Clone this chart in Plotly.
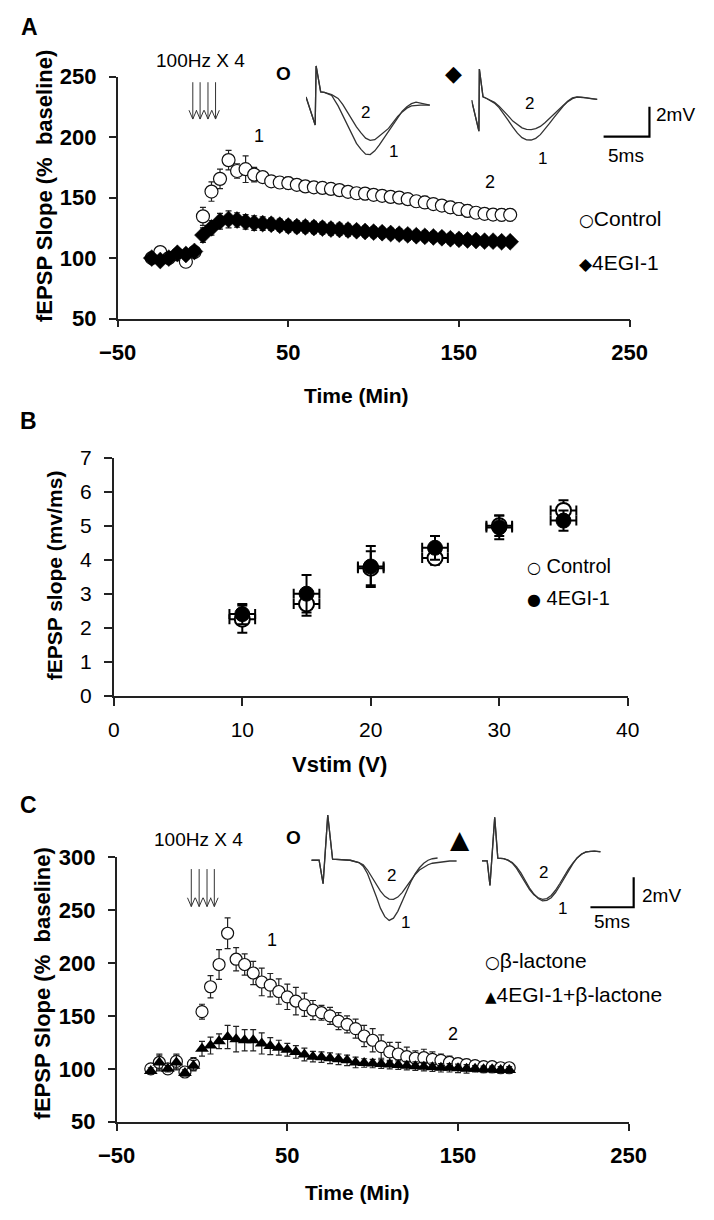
import plotly.graph_objects as go

W, H = 714, 1220
FONT = "Liberation Sans, Arial, sans-serif"

# ---------------- Panel A data ----------------
TIME = [-30, -25, -20, -15, -10, -5, 0, 5, 10, 15, 20, 25, 30, 35, 40, 45, 50, 55, 60, 65,
        70, 75, 80, 85, 90, 95, 100, 105, 110, 115, 120, 125, 130, 135, 140, 145, 150,
        155, 160, 165, 170, 175, 180]
A_CONTROL = [100, 105, 100, 103, 97, 105,
             134.5, 155, 165.5, 181, 172, 173.5, 169, 167, 163.5, 162.5,
             162, 160.6, 159.3, 158.5, 158, 157.2, 156.2, 154.8, 153.6, 153.3,
             152.3, 151.5, 150.6, 150, 148.7, 147, 146, 144.7, 143.4, 142,
             140.6, 139, 137.5, 136.6, 136, 135.8, 135.8]
A_CONTROL_ERR = [2, 3, 3, 3, 4, 3,
                 7.5, 8, 8, 8, 6, 11, 6, 4, 4, 4.5,
                 5, 4, 4, 4, 4, 4.5, 4, 4, 4.5, 5,
                 4, 4, 4, 4.5, 4, 4.5, 5, 4.5, 4, 5,
                 5, 5, 4, 4, 4.5, 5, 5]
A_4EGI = [100, 98, 100, 104, 103, 105.5,
          119, 125, 130.5, 132, 131.5, 130, 129, 128.5, 128, 127.2,
          126.5, 126, 125.8, 125.3, 124.8, 124, 123.7, 123.2, 122.6, 122,
          121.5, 121, 120.3, 119.8, 119.2, 118.5, 118, 117.5, 116.8, 116,
          115.5, 115, 114.5, 114, 114, 113.5, 113.5]
A_4EGI_ERR = [2, 2, 3, 3, 3, 3,
              6, 6, 6.5, 7, 6, 6, 6, 5.5, 5, 5,
              5, 5, 5, 5, 5, 5, 5, 5, 4.5, 4.5,
              4.5, 4.5, 4.5, 4.5, 4.5, 4.5, 4.5, 4.5, 4.5, 4.5,
              4.5, 4, 4, 4, 4, 4, 4]

# ---------------- Panel B data ----------------
VSTIM = [10, 15, 20, 25, 30, 35]
VSTIM_ERR = [1, 1, 1, 1, 1, 1]
B_CONTROL = [2.25, 2.7, 3.75, 4.05, 5.0, 5.45]
B_CONTROL_ERR = [0.4, 0.35, 0.5, 0.2, 0.3, 0.3]
B_4EGI = [2.4, 3.0, 3.8, 4.35, 4.95, 5.15]
B_4EGI_ERR = [0.3, 0.55, 0.6, 0.35, 0.35, 0.3]

# ---------------- Panel C data ----------------
C_BLAC = [100, 106, 100, 107, 97, 104.5,
          154, 177.5, 198.5, 228, 203.5, 198.5, 190.5, 182, 179, 173,
          168, 164, 160.5, 155.5, 153, 150, 145, 142, 138, 131,
          127, 121, 116, 114, 111.5, 110, 110.5, 109, 108, 106,
          105, 104, 103, 102, 102, 101, 101]
C_BLAC_ERR = [4, 8, 4, 7, 4, 6,
              7, 10.5, 14, 14.5, 11, 10, 11, 13, 11, 12,
              12, 13, 11, 9, 7, 8, 8, 8, 9, 10,
              11, 11, 9, 11, 9, 7, 8, 7, 6, 6,
              5, 5, 4, 4, 4, 4, 4]
C_4EGI_BLAC = [98, 106, 100, 106, 96, 103,
               119, 122, 126, 130, 128, 127, 127, 124, 121.5, 120,
               118, 116, 113.5, 111.5, 111, 110, 109, 108, 106, 105.5,
               105, 104.5, 104, 103.5, 103, 102.5, 102, 101.5, 101, 101,
               100.5, 100, 100, 99.5, 99.5, 99, 99]
C_4EGI_BLAC_ERR = [3, 7, 3, 7, 3, 5,
                   7, 8, 7, 11, 12, 10, 10, 10, 8, 7,
                   6, 6, 6, 5, 5, 5, 5, 5, 5, 4,
                   4, 4, 4, 4, 4, 4, 4, 4, 4, 4,
                   4, 4, 3, 3, 3, 3, 3]

# ---------------- Example fEPSP traces (ms, mV) ----------------
A_CTRL_T = [0, 1.0, 1.1, 1.6, 2.0, 2.8, 3.5, 4.0, 4.5, 5.0, 5.5, 6.0, 6.5, 7.0, 7.5, 8.0,
            8.5, 9.0, 9.5, 10.0, 10.5, 11.0, 11.5, 12.0, 12.5, 13.0, 13.5]
A_CTRL_1 = [0, -1.87, 2.07, 0.33, 0.3, 0.1, -0.6, -1.2, -1.9, -2.5, -3.1, -3.5, -3.82, -3.85,
            -3.6, -3.2, -2.75, -2.3, -1.85, -1.35, -0.95, -0.65, -0.45, -0.35, -0.4, -0.5, -0.55]
A_CTRL_2 = [0, -1.87, 2.07, 0.33, 0.3, 0.15, -0.1, -0.5, -1.0, -1.5, -2.0, -2.4, -2.75, -2.9,
            -2.85, -2.6, -2.35, -2.1, -1.7, -1.3, -1.0, -0.75, -0.6, -0.55, -0.55, -0.55, -0.55]
A_EGI_T = [0, 0.8, 0.85, 1.25, 1.65, 2.0, 2.5, 3.0, 3.5, 4.0, 4.5, 5.0, 5.5, 6.0, 6.5, 7.0,
           7.5, 8.0, 8.5, 9.0, 9.5, 10.0, 10.5, 11.0, 11.5, 12.0, 12.5, 13.0, 13.7]
A_EGI_1 = [0, -2.07, 2.07, 0.22, 0.11, 0.0, -0.2, -0.5, -0.9, -1.35, -1.8, -2.2, -2.5, -2.65,
           -2.66, -2.55, -2.3, -1.95, -1.55, -1.15, -0.75, -0.4, -0.1, 0.1, 0.2, 0.2, 0.15, 0.1, 0.05]
A_EGI_2 = [0, -2.07, 2.07, 0.22, 0.11, 0.0, -0.15, -0.4, -0.7, -1.05, -1.4, -1.65, -1.85, -1.95,
           -1.96, -1.9, -1.75, -1.5, -1.2, -0.9, -0.6, -0.3, -0.05, 0.15, 0.22, 0.2, 0.15, 0.1, 0.05]

C_BL_T1 = [0, 0.9, 1.36, 1.9, 2.46, 3.5, 4.5, 5.5, 6.0, 6.5, 7.0, 7.5, 8.0, 8.5, 9.0, 9.5,
           10.0, 10.5, 11.0, 11.5, 12.0, 12.5, 13.0, 13.5, 14.0, 14.6]
C_BL_1 = [0, 0, -1.56, 3.0, 0.07, 0.05, 0.0, -0.15, -0.4, -0.9, -1.6, -2.4, -3.2, -3.75, -4.0,
          -3.85, -3.4, -2.8, -2.1, -1.45, -0.9, -0.5, -0.2, 0.0, 0.1, 0.15]
C_BL_T2 = [0, 0.9, 1.36, 1.9, 2.46, 3.5, 4.5, 5.5, 6.0, 6.5, 7.0, 7.5, 8.0, 8.5, 9.0, 9.5,
           10.0, 10.5, 11.0, 11.5, 12.0, 12.5, 13.0, 13.5, 14.0, 15.0, 16.0, 16.8]
C_BL_2 = [0, 0, -1.56, 3.0, 0.07, 0.05, 0.0, -0.15, -0.3, -0.65, -1.1, -1.6, -2.05, -2.4, -2.58,
          -2.6, -2.45, -2.15, -1.75, -1.35, -0.95, -0.65, -0.45, -0.3, -0.2, -0.1, -0.05, -0.05]
C_EB_T = [0, 0.6, 0.92, 1.47, 1.83, 2.5, 3.0, 3.5, 4.0, 4.5, 5.0, 5.5, 6.0, 6.5, 7.0, 7.5, 8.0,
          8.5, 9.0, 9.5, 10.0, 10.5, 11.0, 11.5, 12.0, 12.5, 13.0, 13.7]
C_EB_1 = [0, 0, -1.63, 2.9, 0.18, 0.15, 0.05, -0.1, -0.4, -0.8, -1.3, -1.8, -2.2, -2.5, -2.65,
          -2.62, -2.45, -2.1, -1.65, -1.15, -0.65, -0.2, 0.2, 0.45, 0.6, 0.65, 0.65, 0.62]
C_EB_2 = [0, 0, -1.63, 2.9, 0.18, 0.15, 0.05, -0.15, -0.5, -0.95, -1.45, -1.9, -2.25, -2.45, -2.55,
          -2.5, -2.3, -1.95, -1.5, -1.0, -0.55, -0.15, 0.2, 0.45, 0.58, 0.63, 0.65, 0.6]

SCALE_MS = 5
SCALE_MV = 2


def X(px):
    return px / W


def Y(py):
    return 1 - py / H


fig = go.Figure()

# ---- Panel A ----
fig.add_trace(go.Scatter(
    x=TIME, y=A_CONTROL, mode="markers", xaxis="x", yaxis="y",
    marker=dict(symbol="circle", size=13, color="white", line=dict(color="#111", width=1.2)),
    error_y=dict(type="data", array=A_CONTROL_ERR, color="#222", thickness=1.2, width=3),
    name="Control", showlegend=False))
fig.add_trace(go.Scatter(
    x=TIME, y=A_4EGI, mode="markers", xaxis="x", yaxis="y",
    marker=dict(symbol="diamond", size=13, color="black", line=dict(color="black", width=0.5)),
    error_y=dict(type="data", array=A_4EGI_ERR, color="#222", thickness=1.2, width=3),
    name="4EGI-1", showlegend=False))

# ---- Panel B ----
fig.add_trace(go.Scatter(
    x=VSTIM, y=B_CONTROL, mode="markers", xaxis="x2", yaxis="y2",
    marker=dict(symbol="circle", size=15, color="white", line=dict(color="black", width=2)),
    error_y=dict(type="data", array=B_CONTROL_ERR, color="black", thickness=2, width=5),
    error_x=dict(type="data", array=VSTIM_ERR, color="black", thickness=2, width=5),
    name="Control", showlegend=False))
fig.add_trace(go.Scatter(
    x=VSTIM, y=B_4EGI, mode="markers", xaxis="x2", yaxis="y2",
    marker=dict(symbol="circle", size=15, color="black", line=dict(color="black", width=1)),
    error_y=dict(type="data", array=B_4EGI_ERR, color="black", thickness=2, width=5),
    error_x=dict(type="data", array=VSTIM_ERR, color="black", thickness=2, width=5),
    name="4EGI-1", showlegend=False))

# ---- Panel C ----
fig.add_trace(go.Scatter(
    x=TIME, y=C_BLAC, mode="markers", xaxis="x3", yaxis="y3",
    marker=dict(symbol="circle", size=12, color="white", line=dict(color="#111", width=1.2)),
    error_y=dict(type="data", array=C_BLAC_ERR, color="#222", thickness=1.2, width=3),
    name="β-lactone", showlegend=False))
fig.add_trace(go.Scatter(
    x=TIME, y=C_4EGI_BLAC, mode="markers", xaxis="x3", yaxis="y3",
    marker=dict(symbol="triangle-up", size=12, color="black"),
    error_y=dict(type="data", array=C_4EGI_BLAC_ERR, color="#222", thickness=1.2, width=3),
    name="4EGI-1+β-lactone", showlegend=False))

# ---- Inset traces ----
TRC = dict(color="#333", width=1.3)
for xs, ys, ax in [(A_CTRL_T, A_CTRL_1, 4), (A_CTRL_T, A_CTRL_2, 4),
                   (A_EGI_T, A_EGI_1, 5), (A_EGI_T, A_EGI_2, 5),
                   (C_BL_T1, C_BL_1, 6), (C_BL_T2, C_BL_2, 6),
                   (C_EB_T, C_EB_1, 7), (C_EB_T, C_EB_2, 7)]:
    fig.add_trace(go.Scatter(x=xs, y=ys, mode="lines", line=TRC, xaxis=f"x{ax}", yaxis=f"y{ax}",
                             showlegend=False, hoverinfo="skip"))

# scale bars (5 ms, 2 mV)
for t0, v0, ax in [(14.4, -2.44, 5), (12.54, -3.08, 7)]:
    fig.add_trace(go.Scatter(x=[t0, t0 + SCALE_MS, t0 + SCALE_MS], y=[v0, v0, v0 + SCALE_MV],
                             mode="lines", line=dict(color="black", width=2.2),
                             xaxis=f"x{ax}", yaxis=f"y{ax}", showlegend=False, hoverinfo="skip"))


def main_axis(dom, rng, tickvals, anchor, size, bold, lw, ticklen, standoff):
    return dict(domain=dom, range=rng, tickmode="array", tickvals=tickvals, anchor=anchor,
                showline=True, linecolor="#222", linewidth=lw, ticks="outside", ticklen=ticklen,
                tickwidth=lw, tickcolor="#222", showgrid=False, zeroline=False,
                ticklabelstandoff=standoff,
                tickfont=dict(family=FONT, size=size, color="black",
                              weight="bold" if bold else "normal"))


def inset(px0, py0, kx, ky, tmax, vmin, vmax, n):
    xd = [X(px0), X(px0 + tmax * kx)]
    yd = [Y(py0 - vmin * ky), Y(py0 - vmax * ky)]
    return {f"xaxis{n}": dict(domain=xd, range=[0, tmax], visible=False, anchor=f"y{n}"),
            f"yaxis{n}": dict(domain=yd, range=[vmin, vmax], visible=False, anchor=f"x{n}")}


layout = dict(
    width=W, height=H, margin=dict(l=0, r=0, t=0, b=0),
    paper_bgcolor="white", plot_bgcolor="rgba(0,0,0,0)", showlegend=False,
    xaxis=main_axis([X(104), X(644)], [-50, 250], [-50, 50, 150, 250], "y", 22, True, 1.5, 7, 6),
    yaxis=main_axis([Y(313), Y(66)], [50, 250], [50, 100, 150, 200, 250], "x", 22, True, 1.5, 7, 8),
    xaxis2=main_axis([X(100), X(642)], [0, 40], [0, 10, 20, 30, 40], "y2", 21, False, 2, 8, 6),
    yaxis2=main_axis([Y(698), Y(455)], [0, 7], [0, 1, 2, 3, 4, 5, 6, 7], "x2", 21, False, 2, 8, 8),
    xaxis3=main_axis([X(103), X(643)], [-50, 250], [-50, 50, 150, 250], "y3", 22, True, 1.5, 7, 6),
    yaxis3=main_axis([Y(1133), Y(862.7)], [50, 300], [50, 100, 150, 200, 250, 300], "x3", 22, True, 1.5, 7, 8),
)
layout.update(inset(302.7, 86.7, 9.67, 15.3, 14, -4.5, 2.5, 4))
layout.update(inset(477.3, 90, 9.67, 15.3, 20, -4.5, 2.5, 5))
layout.update(inset(308.3, 866, 9.12, 15.35, 17.5, -4.5, 3.5, 6))
layout.update(inset(488.3, 866.7, 9.12, 15.35, 18, -4.5, 3.5, 7))
fig.update_layout(**layout)

ANN = []


def ann(text, px, py, size, xanchor="center", angle=0, family=FONT):
    ANN.append(dict(text=text, x=X(px), y=Y(py), xref="paper", yref="paper", showarrow=False,
                    xanchor=xanchor, yanchor="middle", textangle=angle,
                    font=dict(family=family, size=size, color="black")))


# panel letters
ann("<b>A</b>", 11, 15, 23)
ann("<b>B</b>", 10, 418, 23)
ann("<b>C</b>", 10, 810, 23)

# axis titles
ann("<b>fEPSP Slope (%  baseline)</b>", 27, 178, 22, angle=-90)
ann("<b>Time (Min)</b>", 356, 392, 21)
ann("<b>fEPSP slope (mv/ms)</b>", 37, 575, 21, angle=-90)
ann("<b>Vstim (V)</b>", 338, 768, 22)
ann("<b>fEPSP Slope (%  baseline)</b>", 25, 992, 22, angle=-90)
ann("<b>Time (Min)</b>", 357, 1205, 21)

# stimulation labels
ann("100Hz X 4", 191, 50, 19)
ann("100Hz X 4", 189, 845, 19)

# trace symbols
ann("<b>O</b>", 279, 63, 19)
ann("◆", 458, 63, 22, family="DejaVu Sans")
ann("<b>O</b>", 290, 843, 19)
ann("▲", 465, 845, 25, family="DejaVu Sans")

# time-point labels
ann("1", 253, 127, 18)
ann("2", 497, 174, 18)
ann("1", 267, 947, 18)
ann("2", 458, 1043, 18)

# inset trace labels
ann("2", 365, 103, 17)
ann("1", 395, 142, 17)
ann("2", 538, 93, 17)
ann("1", 552, 150, 17)
ann("2", 393, 882, 17)
ann("1", 408, 930, 17)
ann("2", 553, 878, 17)
ann("1", 573, 915, 17)

# scale bar labels
ann("2mV", 670, 105, 19, xanchor="left")
ann("5ms", 640, 147, 19)
ann("2mV", 655, 902, 19, xanchor="left")
ann("5ms", 625, 929, 19)

# legends
SYM = '<span style="font-family:DejaVu Sans;font-size:{}px">{}</span>'
ann(SYM.format(17, "○") + "Control", 589, 211, 21, xanchor="left")
ann(SYM.format(17, "◆") + "4EGI-1", 589, 256, 21, xanchor="left")
ann(SYM.format(16, "○") + " Control", 534, 566, 20, xanchor="left")
ann(SYM.format(16, "●") + " 4EGI-1", 534, 598, 20, xanchor="left")
ann(SYM.format(17, "○") + "β-lactone", 489, 968, 21, xanchor="left")
ann(SYM.format(15, "▲") + "4EGI-1+β-lactone", 489, 1003, 21, xanchor="left")

fig.update_layout(annotations=ANN)

# stimulation arrows
shapes = []
for xs, y0, y1 in [([183.3, 191, 199.3, 207.3], 71.7, 109.3), ([181.7, 190, 198.3, 206], 875, 913.3)]:
    for x in xs:
        path = (f"M {X(x)} {Y(y0)} L {X(x)} {Y(y1)} "
                f"M {X(x - 4)} {Y(y1 - 9)} L {X(x)} {Y(y1)} L {X(x + 4)} {Y(y1 - 9)}")
        shapes.append(dict(type="path", path=path, xref="paper", yref="paper",
                           line=dict(color="#333", width=1)))
fig.update_layout(shapes=shapes)

fig.write_html("out.html", config={"displayModeBar": False},
               post_script="document.body.style.margin='0px';")
